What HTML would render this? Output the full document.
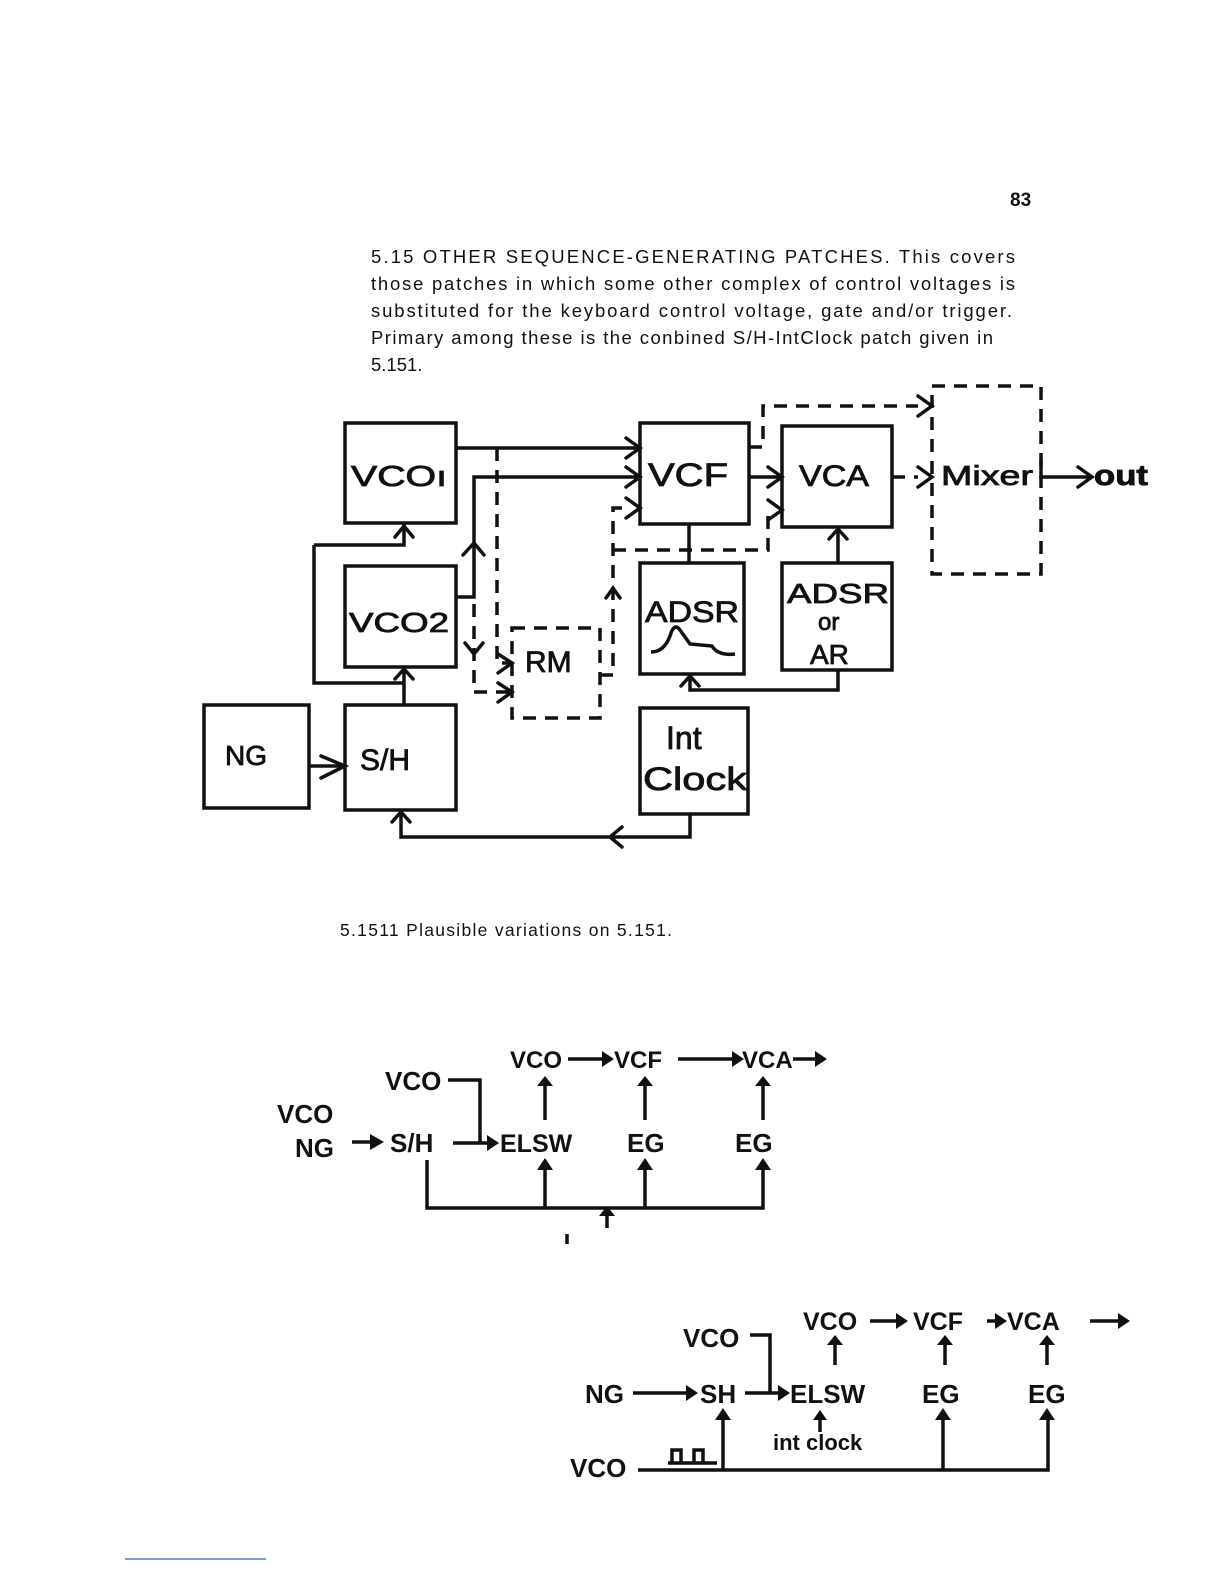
<!DOCTYPE html>
<html><head><meta charset="utf-8"><style>
html,body{margin:0;padding:0;background:#fff;}
svg{display:block;}
.t{font-family:"Liberation Sans",sans-serif;fill:#111;}
.b{font-family:"Liberation Sans",sans-serif;font-weight:bold;fill:#111;}
.s{stroke:#111;stroke-width:3.5;fill:none;}
.d{stroke:#111;stroke-width:3.5;fill:none;stroke-dasharray:13,9;}
.a{stroke:#111;stroke-width:3.5;fill:none;stroke-linecap:round;}
.L{font-family:"Liberation Sans",sans-serif;fill:#111;stroke:#111;stroke-width:0.8;}
</style></head><body>
<svg width="1224" height="1584" viewBox="0 0 1224 1584" xmlns="http://www.w3.org/2000/svg">
<text class="t" x="1010" y="206" font-size="19" font-weight="bold">83</text>
<g class="t" font-size="18.5">
<text x="371" y="263" textLength="644" lengthAdjust="spacing">5.15  OTHER SEQUENCE-GENERATING PATCHES.  This covers</text>
<text x="371" y="290" textLength="644" lengthAdjust="spacing">those patches in which some other complex of control voltages is</text>
<text x="371" y="317" textLength="641" lengthAdjust="spacing">substituted for the keyboard control voltage, gate and/or trigger.</text>
<text x="371" y="344" textLength="622" lengthAdjust="spacing">Primary among these is the conbined S/H-IntClock patch given in</text>
<text x="371" y="371">5.151.</text>
<text x="340" y="936" font-size="17.5" textLength="332" lengthAdjust="spacing">5.1511   Plausible variations on 5.151.</text>
</g>

<rect class="s" x="345" y="423" width="111" height="100"/>
<rect class="s" x="345" y="566" width="111" height="101"/>
<rect class="s" x="204" y="705" width="105" height="103"/>
<rect class="s" x="345" y="705" width="111" height="105"/>
<rect class="d" x="512" y="628" width="88" height="90"/>
<rect class="s" x="640" y="423" width="109" height="101"/>
<rect class="s" x="782" y="426" width="110" height="101"/>
<rect class="s" x="640" y="563" width="104" height="111"/>
<rect class="s" x="782" y="563" width="110" height="107"/>
<rect class="s" x="640" y="708" width="108" height="106"/>
<rect class="d" x="932" y="386" width="109" height="188"/>

<g class="L">
<text x="351" y="486" font-size="29" textLength="96" lengthAdjust="spacingAndGlyphs">VCOı</text>
<text x="349" y="632" font-size="28" textLength="100" lengthAdjust="spacingAndGlyphs">VCO2</text>
<text x="225" y="765" font-size="28">NG</text>
<text x="360" y="770" font-size="30">S/H</text>
<text x="525" y="672" font-size="30">RM</text>
<text x="648" y="486" font-size="32" textLength="80" lengthAdjust="spacingAndGlyphs">VCF</text>
<text x="799" y="486" font-size="30" textLength="70" lengthAdjust="spacingAndGlyphs">VCA</text>
<text x="645" y="622" font-size="30" textLength="94" lengthAdjust="spacingAndGlyphs">ADSR</text>
<text x="787" y="603" font-size="28" textLength="102" lengthAdjust="spacingAndGlyphs">ADSR</text>
<text x="818" y="630" font-size="24">or</text>
<text x="810" y="664" font-size="28">AR</text>
<text x="666" y="749" font-size="32">Int</text>
<text x="643" y="790" font-size="32" textLength="104" lengthAdjust="spacingAndGlyphs">Clock</text>
<text x="941" y="485" font-size="28" textLength="92" lengthAdjust="spacingAndGlyphs">Mixer</text>
<text x="1094" y="485" font-size="29" font-weight="bold" textLength="54" lengthAdjust="spacingAndGlyphs">out</text>
</g>
<path class="s" d="M651 652 Q664 652 670 636 Q674 622 680 630 L690 644 L712 646 Q718 656 735 654"/>

<path class="s" d="M456 448 H640 M456 597 H474 V477 H640 M314 545 V683 H404 M314 545 H404 V523 M404 705 V667 M309 766 H345 M749 477 H782 M689 524 V563 M838 527 V563 M838 670 V690 H690 V674 M690 814 V837 H401 V810 M1041 460 V477 H1090"/>
<g class="a">
<path d="M626 438 L640 448 L626 458"/><path d="M626 467 L640 477 L626 487"/><path d="M626 498 L640 508 L626 518"/>
<path d="M395 537 L404 526 L413 537"/><path d="M395 679 L404 669 L413 679"/><path d="M463 555 L474 543 L484 555"/>
<path d="M321 756 L345 766 L321 778" /><path d="M768 467 L782 477 L768 487"/><path d="M768 500 L782 510 L768 520"/>
<path d="M829 539 L838 529 L847 539"/><path d="M681 686 L690 676 L699 686"/><path d="M392 822 L401 812 L410 822"/>
<path d="M622 827 L610 837 L622 847"/><path d="M918 467 L932 477 L918 487"/><path d="M918 396 L932 406 L918 416"/>
<path d="M1078 467 L1092 477 L1078 487"/><path d="M498 654 L512 663 L498 673"/><path d="M498 683 L512 692 L498 702"/>
<path d="M465 643 L474 654 L483 643"/><path d="M606 598 L613 588 L620 598"/>
</g>
<path class="d" d="M497 448 V663 H510 M474 604 V692 H510 M600 675 H613 V508 H626 M613 550 H768 V510 M749 447 H763 V406 H918 M892 477 H918"/>

<g class="b" font-size="26">
<text x="385" y="1090">VCO</text>
<text x="277" y="1123">VCO</text>
<text x="295" y="1157">NG</text>
<text x="390" y="1152">S/H</text>
<text x="500" y="1152" font-size="25">ELSW</text>
<text x="627" y="1152">EG</text>
<text x="735" y="1152">EG</text>
<text x="510" y="1068" font-size="24">VCO</text>
<text x="614" y="1068" font-size="24">VCF</text>
<text x="742" y="1068" font-size="24">VCA</text>
</g>
<path class="s" d="M448 1080 H480 V1143 H490 M453 1143 H490 M352 1142 H372 M568 1059 H602 M678 1059 H732 M793 1059 H815 M545 1120 V1085 M645 1120 V1085 M763 1120 V1085 M427 1160 V1208 H763 V1168 M545 1208 V1168 M645 1208 V1168 M607 1228 V1214"/>
<g fill="#111">
<path d="M602 1051 L614 1059 L602 1067Z"/><path d="M732 1051 L744 1059 L732 1067Z"/><path d="M815 1051 L827 1059 L815 1067Z"/>
<path d="M537 1086 L545 1076 L553 1086Z"/><path d="M637 1086 L645 1076 L653 1086Z"/><path d="M755 1086 L763 1076 L771 1086Z"/>
<path d="M537 1170 L545 1158 L553 1170Z"/><path d="M637 1170 L645 1158 L653 1170Z"/><path d="M755 1170 L763 1158 L771 1170Z"/>
<path d="M599 1216 L607 1206 L615 1216Z"/><path d="M487 1135 L499 1143 L487 1151Z"/><path d="M370 1134 L384 1142 L370 1150Z"/>
</g>
<path class="s" d="M567 1234 V1244" stroke-width="2.5"/>

<g class="b" font-size="26">
<text x="683" y="1347">VCO</text>
<text x="585" y="1403">NG</text>
<text x="700" y="1403">SH</text>
<text x="790" y="1403" font-size="26">ELSW</text>
<text x="922" y="1403">EG</text>
<text x="1028" y="1403">EG</text>
<text x="803" y="1330" font-size="25">VCO</text>
<text x="913" y="1330" font-size="25">VCF</text>
<text x="1007" y="1330" font-size="25">VCA</text>
<text x="773" y="1450" font-size="22">int clock</text>
<text x="570" y="1477">VCO</text>
</g>
<path class="s" d="M750 1335 H770 V1393 H780 M633 1393 H688 M745 1393 H780 M870 1321 H898 M987 1321 H997 M1090 1321 H1118 M835 1365 V1340 M945 1365 V1340 M1047 1365 V1340 M638 1470 H1048 V1418 M723 1470 V1418 M943 1470 V1418 M820 1432 V1418 M668 1463 H717 M672 1462 V1450 H681 V1462 M694 1462 V1450 H703 V1462" />
<g fill="#111">
<path d="M686 1385 L698 1393 L686 1401Z"/><path d="M778 1385 L790 1393 L778 1401Z"/>
<path d="M896 1313 L908 1321 L896 1329Z"/><path d="M995 1313 L1007 1321 L995 1329Z"/><path d="M1118 1313 L1130 1321 L1118 1329Z"/>
<path d="M827 1345 L835 1335 L843 1345Z"/><path d="M937 1345 L945 1335 L953 1345Z"/><path d="M1039 1345 L1047 1335 L1055 1345Z"/>
<path d="M715 1420 L723 1408 L731 1420Z"/><path d="M935 1420 L943 1408 L951 1420Z"/><path d="M1039 1420 L1047 1408 L1055 1420Z"/>
<path d="M813 1420 L820 1410 L827 1420Z"/>
</g>
<path d="M125 1559 H266" stroke="#5577cc" stroke-width="1.5"/>
</svg>
</body></html>
